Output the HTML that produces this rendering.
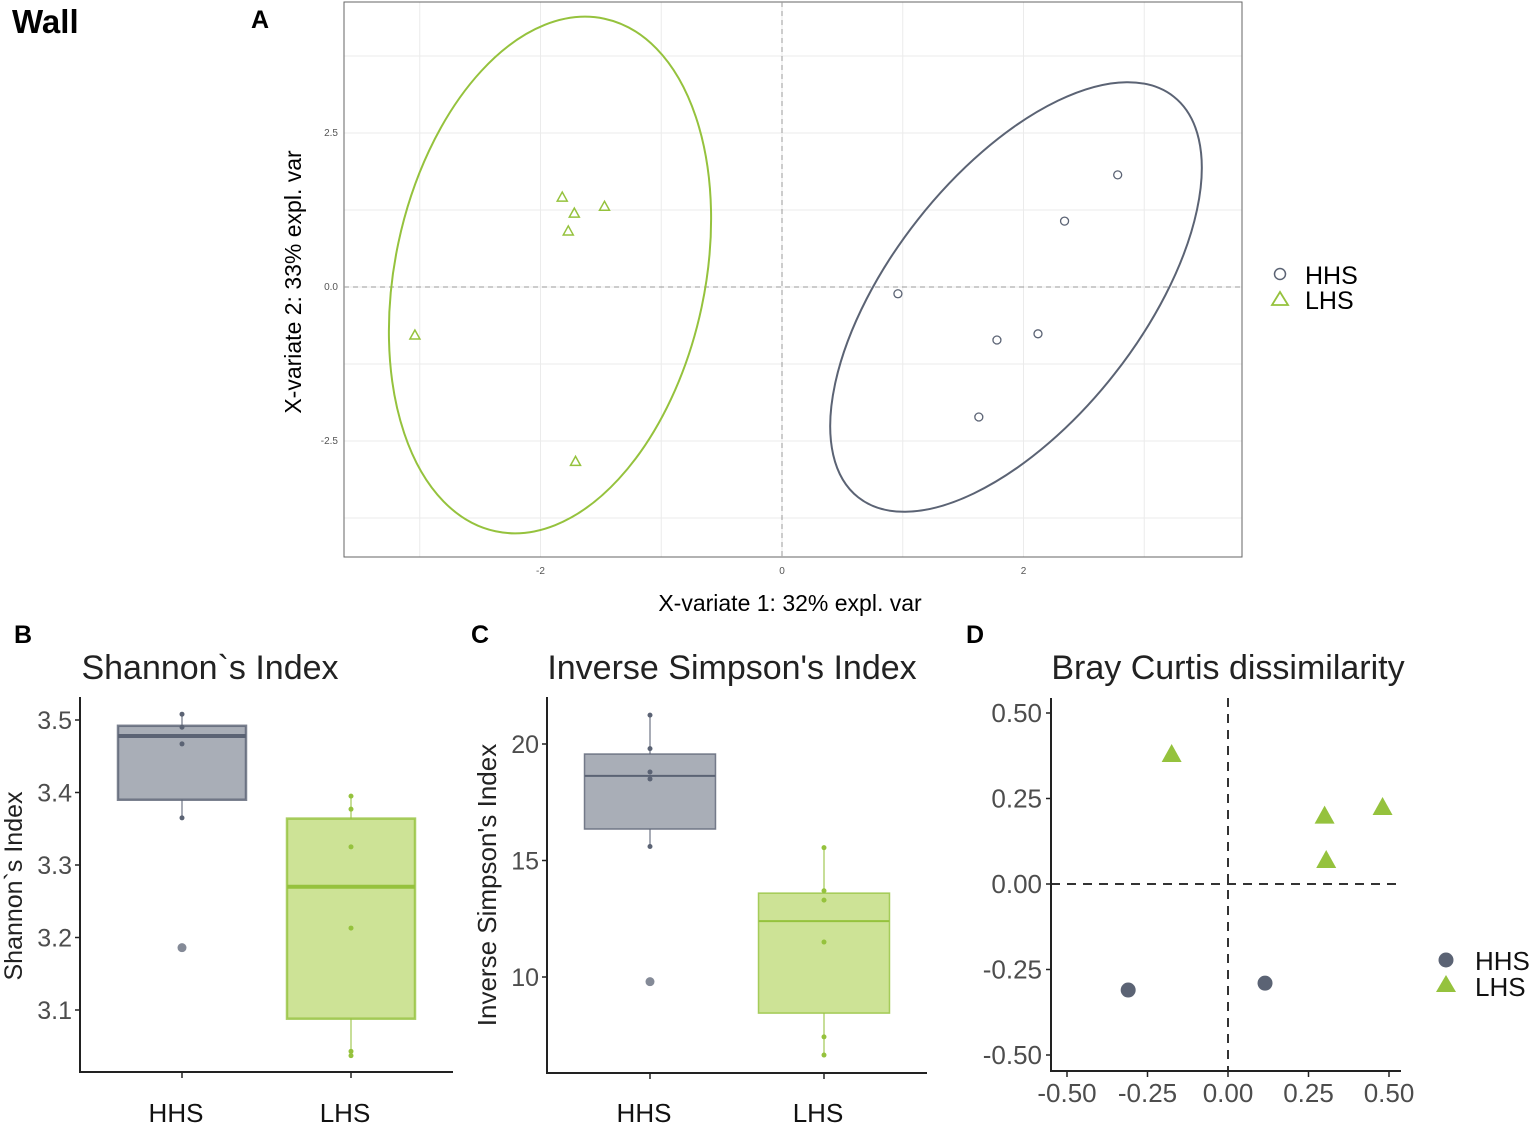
<!DOCTYPE html>
<html><head><meta charset="utf-8"><style>
body{margin:0;background:#fff}
svg{display:block;font-family:"Liberation Sans",sans-serif}
</style></head><body>
<svg id="fig" width="1535" height="1129" viewBox="0 0 1535 1129" xmlns="http://www.w3.org/2000/svg">
<text x="12" y="33" font-size="33" font-weight="bold">Wall</text>
<text x="251" y="28" font-size="25" font-weight="bold">A</text>
<text x="14" y="643" font-size="25" font-weight="bold">B</text>
<text x="471" y="643" font-size="25" font-weight="bold">C</text>
<text x="966" y="643" font-size="25" font-weight="bold">D</text>
<g id="pA"></g>
<g id="pB"></g>
<g id="pC"></g>
<g id="pD"></g>
</svg>
<script>
// Panel A data
const aHHSx=[2.78,2.34,0.96,1.78,2.12,1.63];
const aHHSy=[1.82,1.07,-0.11,-0.86,-0.76,-2.11];
const aLHSx=[-1.82,-1.72,-1.77,-1.47,-3.04,-1.71];
const aLHSy=[1.46,1.20,0.91,1.31,-0.78,-2.83];
const aXTicks=[-2,0,2];
const aYTicks=[-2.5,0,2.5];
// Panel B data
const bHHS=[3.508,3.49,3.467,3.365,3.186];
const bLHS=[3.395,3.377,3.325,3.213,3.043,3.037];
const bHHSbox=[3.365,3.39,3.478,3.492,3.508];
const bLHSbox=[3.037,3.088,3.27,3.364,3.395];
const bTicks=[3.1,3.2,3.3,3.4,3.5];
// Panel C data
const cHHS=[21.24,19.8,18.8,18.5,15.6,9.8];
const cLHS=[15.55,13.7,13.3,11.5,7.43,6.65];
const cHHSbox=[15.6,16.35,18.63,19.57,21.24];
const cLHSbox=[6.65,8.45,12.4,13.6,15.55];
const cTicks=[10,15,20];
// Panel D data
const dHHSx=[-0.31,0.115];
const dHHSy=[-0.31,-0.29];
const dLHSx=[-0.175,0.30,0.48,0.305];
const dLHSy=[0.38,0.20,0.225,0.07];
const dTicks=[-0.5,-0.25,0,0.25,0.5];
const dTickLabels=["-0.50","-0.25","0.00","0.25","0.50"];

const NS="http://www.w3.org/2000/svg";
function mk(parent,tag,attrs,txt){const e=document.createElementNS(NS,tag);for(const k in attrs)e.setAttribute(k,attrs[k]);if(txt!==undefined)e.textContent=txt;parent.appendChild(e);return e;}
const GRAY="#5b6374",GREEN="#95c23d";

// ---------- Panel A ----------
(function(){
const g=document.getElementById('pA');
const X=v=>782+v*120.75, Y=v=>287-v*61.6;
for(const v of [-3,-2,-1,0,1,2,3]){const l=mk(g,'line',{x1:X(v),x2:X(v),y1:2,y2:557,stroke:'#ebebeb','stroke-width':1});

}
for(const v of [-3.75,-2.5,-1.25,0,1.25,2.5,3.75]){const l=mk(g,'line',{x1:344,x2:1242,y1:Y(v),y2:Y(v),stroke:'#ebebeb','stroke-width':1});

}
const fr=mk(g,'rect',{x:344,y:2,width:898,height:555,fill:'none',stroke:'#666','stroke-width':1});


const h0=mk(g,'line',{x1:344,x2:1242,y1:Y(0),y2:Y(0),stroke:'#999','stroke-dasharray':'5,4'});


const v0=mk(g,'line',{x1:X(0),x2:X(0),y1:2,y2:557,stroke:'#999','stroke-dasharray':'5,4'});


aXTicks.forEach(v=>{const t=mk(g,'text',{x:X(v),y:574,'font-size':10,fill:'#555','text-anchor':'middle'},String(v));

});
aYTicks.forEach(v=>{const t=mk(g,'text',{x:338,y:Y(v)+3,'font-size':10,fill:'#555','text-anchor':'end'},v.toFixed(1));

});
const e1=mk(g,'ellipse',{cx:550,cy:275,rx:155,ry:262,transform:'rotate(12 550 275)',fill:'none',stroke:GREEN,'stroke-width':2});


const e2=mk(g,'ellipse',{cx:1016,cy:297,rx:125,ry:255,transform:'rotate(38.2 1016 297)',fill:'none',stroke:GRAY,'stroke-width':2});


aHHSx.forEach((v,i)=>{const c=mk(g,'circle',{cx:X(v),cy:Y(aHHSy[i]),r:4,fill:'none',stroke:GRAY,'stroke-width':1.3});

});
aLHSx.forEach((v,i)=>{const x=X(v),y=Y(aLHSy[i]);const p=mk(g,'polygon',{points:`${x},${y-5} ${x-5},${y+4} ${x+5},${y+4}`,fill:'none',stroke:GREEN,'stroke-width':1.5});

});
const xt=mk(g,'text',{x:790,y:611,'font-size':23,'text-anchor':'middle'},'X-variate 1: 32% expl. var');


const yt=mk(g,'text',{x:0,y:0,'font-size':23,'text-anchor':'middle',transform:'translate(301,282) rotate(-90)'},'X-variate 2: 33% expl. var');


const lc=mk(g,'circle',{cx:1280,cy:274,r:5.5,fill:'none',stroke:GRAY,'stroke-width':1.5});


const lt=mk(g,'polygon',{points:'1280,292 1272,305 1288,305',fill:'none',stroke:GREEN,'stroke-width':1.8});


const l1=mk(g,'text',{x:1305,y:284,'font-size':25},'HHS');


const l2=mk(g,'text',{x:1305,y:309,'font-size':25},'LHS');


})();

// ---------- Box panels ----------
function boxPanel(id,opt){
const g=document.getElementById(id);
const Y=opt.Y;
const t=mk(g,'text',{x:opt.titleX,y:679,'font-size':34,fill:'#222','text-anchor':'middle'},opt.title);


const groups=[{box:opt.hbox,pts:opt.hpts,cx:opt.hx,fill:'#a9aeb7',st:GRAY,name:'hhs'},{box:opt.lbox,pts:opt.lpts,cx:opt.lx,fill:'#cde396',st:GREEN,name:'lhs'}];
groups.forEach(G=>{
 const b=G.box;
 const w=mk(g,'line',{x1:G.cx,x2:G.cx,y1:Y(b[4]),y2:Y(b[0]),stroke:G.st,'stroke-width':1.5,opacity:0.7});
 
 
 const r=mk(g,'rect',{x:G.cx-opt.bw/2,y:Y(b[3]),width:opt.bw,height:Y(b[1])-Y(b[3]),fill:G.fill,stroke:G.st,'stroke-width':opt.sw,'stroke-opacity':0.8});
 
 
 const m=mk(g,'line',{x1:G.cx-opt.bw/2,x2:G.cx+opt.bw/2,y1:Y(b[2]),y2:Y(b[2]),stroke:G.st,'stroke-width':opt.mw});
 
 
 G.pts.forEach(v=>{const out=v<b[0]||v>b[4];const c=mk(g,'circle',{cx:G.cx,cy:Y(v),r:out?4.5:2.5,fill:G.st,opacity:out?0.75:1});
 
 });
});
const ax=mk(g,'path',{d:`M${opt.x0},${opt.yTop} V${opt.y0} H${opt.x1}`,fill:'none',stroke:'#222','stroke-width':2});


opt.ticks.forEach(v=>{
 const tk=mk(g,'line',{x1:opt.x0-5,x2:opt.x0,y1:Y(v),y2:Y(v),stroke:'#222','stroke-width':1.5});
 
 
 const tl=mk(g,'text',{x:opt.x0-8,y:Y(v)+9,'font-size':25,fill:'#4d4d4d','text-anchor':'end'},String(v));
 
 
});
[[opt.hx,'HHS'],[opt.lx,'LHS']].forEach(([x,s])=>{
 const tk=mk(g,'line',{x1:x,x2:x,y1:opt.y0,y2:opt.y0+6,stroke:'#222','stroke-width':1.5});
 
 
 const tl=mk(g,'text',{x:x-6,y:1122,'font-size':26,fill:'#111','text-anchor':'middle'},s);
 
 
});
const yt=mk(g,'text',{x:0,y:0,'font-size':opt.ytSize,fill:'#222','text-anchor':'middle',transform:`translate(${opt.ytX},${opt.ytY}) rotate(-90)`},opt.ytitle);


}
boxPanel('pB',{Y:v=>720-(v-3.5)*725,title:'Shannon`s Index',titleX:210,hbox:bHHSbox,lbox:bLHSbox,hpts:bHHS,lpts:bLHS,hx:182,lx:351,bw:128,sw:2.5,mw:4,ticks:bTicks,x0:80,x1:453,y0:1072,yTop:697,ytitle:'Shannon`s Index',ytX:22,ytY:886,ytSize:25});
boxPanel('pC',{Y:v=>744-(v-20)*23.3,title:"Inverse Simpson's Index",titleX:732,hbox:cHHSbox,lbox:cLHSbox,hpts:cHHS,lpts:cLHS,hx:650,lx:824,bw:131,sw:1.5,mw:2,ticks:cTicks,x0:547,x1:927,y0:1073,yTop:697,ytitle:"Inverse Simpson's Index",ytX:496,ytY:885,ytSize:26});

// ---------- Panel D ----------
(function(){
const g=document.getElementById('pD');
const X=v=>1228+v*322, Y=v=>884-v*342;
const t=mk(g,'text',{x:1228,y:679,'font-size':34,fill:'#222','text-anchor':'middle'},'Bray Curtis dissimilarity');


const h=mk(g,'line',{x1:1051,x2:1401,y1:Y(0),y2:Y(0),stroke:'#333','stroke-width':2,'stroke-dasharray':'9,7'});


const v=mk(g,'line',{x1:X(0),x2:X(0),y1:698,y2:1071,stroke:'#333','stroke-width':2,'stroke-dasharray':'9,7'});


const ax=mk(g,'path',{d:'M1051,698 V1071 H1401',fill:'none',stroke:'#222','stroke-width':2});


dTicks.forEach((d,i)=>{
 const a=mk(g,'line',{x1:1046,x2:1051,y1:Y(d),y2:Y(d),stroke:'#222','stroke-width':1.5});
 
 
 const b=mk(g,'text',{x:1042,y:Y(d)+9,'font-size':26,fill:'#4d4d4d','text-anchor':'end'},dTickLabels[i]);
 
 
 const c=mk(g,'line',{x1:X(d),x2:X(d),y1:1071,y2:1077,stroke:'#222','stroke-width':1.5});
 
 
 const e=mk(g,'text',{x:X(d),y:1102,'font-size':26,fill:'#4d4d4d','text-anchor':'middle'},dTickLabels[i]);
 
 
});
dHHSx.forEach((d,i)=>{const c=mk(g,'circle',{cx:X(d),cy:Y(dHHSy[i]),r:7.5,fill:GRAY});

});
dLHSx.forEach((d,i)=>{const x=X(d),y=Y(dLHSy[i]);const p=mk(g,'polygon',{points:`${x},${y-10} ${x-10},${y+8} ${x+10},${y+8}`,fill:GREEN});

});
const lc=mk(g,'circle',{cx:1446,cy:960,r:7.5,fill:GRAY});


const lt=mk(g,'polygon',{points:'1446,975 1436,992 1456,992',fill:GREEN});


const l1=mk(g,'text',{x:1475,y:970,'font-size':26,fill:'#111'},'HHS');


const l2=mk(g,'text',{x:1475,y:996,'font-size':26,fill:'#111'},'LHS');


})();
</script>
</body></html>
